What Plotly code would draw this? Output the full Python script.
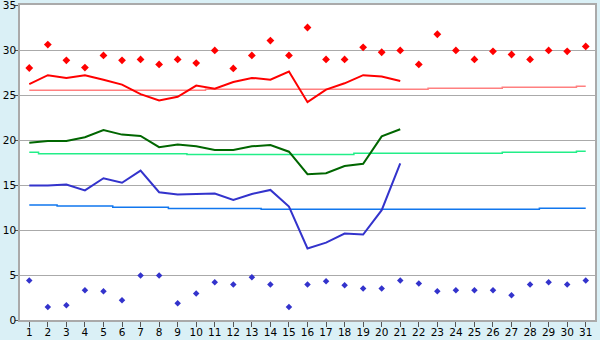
import plotly.graph_objects as go

days = list(range(1, 32))
max_points = [28.0, 30.6, 28.85, 28.05, 29.4, 28.85, 28.95, 28.4, 28.95, 28.55,
              29.95, 27.95, 29.4, 31.05, 29.4, 32.5, 28.95, 28.95, 30.3, 29.75,
              29.95, 28.4, 31.75, 29.95, 28.95, 29.85, 29.5, 28.95, 29.95, 29.85, 30.4]
min_points = [4.4, 1.45, 1.65, 3.3, 3.2, 2.2, 4.95, 4.95, 1.85, 2.95,
              4.2, 3.95, 4.75, 3.95, 1.45, 3.95, 4.3, 3.85, 3.5, 3.5,
              4.4, 4.05, 3.2, 3.3, 3.3, 3.3, 2.75, 3.95, 4.2, 3.95, 4.4]
line_days = list(range(1, 22))
max_line = [26.2, 27.2, 26.9, 27.2, 26.7, 26.15, 25.1, 24.4, 24.8, 26.05,
            25.7, 26.45, 26.9, 26.7, 27.6, 24.2, 25.6, 26.3, 27.2, 27.05, 26.55]
mean_line = [19.7, 19.9, 19.9, 20.3, 21.1, 20.6, 20.45, 19.2, 19.5, 19.3,
             18.9, 18.9, 19.3, 19.45, 18.7, 16.2, 16.3, 17.1, 17.35, 20.4, 21.2]
min_line = [14.95, 14.95, 15.05, 14.4, 15.75, 15.25, 16.6, 14.2, 13.95, 14.0,
            14.05, 13.35, 14.0, 14.45, 12.6, 7.95, 8.6, 9.6, 9.5, 12.2, 17.4]
normal_max = [25.52]*10 + [25.63]*12 + [25.74]*4 + [25.85]*4 + [25.96]
normal_mean = [18.63] + [18.48]*8 + [18.38]*9 + [18.52]*8 + [18.63]*4 + [18.74]
normal_min = [12.78]*2 + [12.67]*3 + [12.52]*3 + [12.4]*5 + [12.3]*15 + [12.41]*3

x_ticks = [str(d) for d in days]
y_ticks = [0, 5, 10, 15, 20, 25, 30, 35]

fig = go.Figure()
fig.add_trace(go.Scatter(x=days, y=normal_max, mode="lines", line=dict(color="#ff8080", width=1.5, shape="hvh")))
fig.add_trace(go.Scatter(x=days, y=normal_mean, mode="lines", line=dict(color="#22ee88", width=1.5, shape="hvh")))
fig.add_trace(go.Scatter(x=days, y=normal_min, mode="lines", line=dict(color="#1177ee", width=1.5, shape="hvh")))
fig.add_trace(go.Scatter(x=line_days, y=max_line, mode="lines", line=dict(color="#ff0000", width=2)))
fig.add_trace(go.Scatter(x=line_days, y=mean_line, mode="lines", line=dict(color="#006600", width=2)))
fig.add_trace(go.Scatter(x=line_days, y=min_line, mode="lines", line=dict(color="#3333cc", width=2)))
fig.add_trace(go.Scatter(x=days, y=max_points, mode="markers", marker=dict(symbol="diamond", size=6, color="#ff0000")))
fig.add_trace(go.Scatter(x=days, y=min_points, mode="markers", marker=dict(symbol="diamond", size=5, color="#3333cc")))

fig.update_layout(
    width=600, height=340,
    margin=dict(l=20, r=5, t=5, b=20, autoexpand=False),
    paper_bgcolor="#daf0f6", plot_bgcolor="#ffffff",
    showlegend=False,
    font=dict(family="DejaVu Sans", size=10.5, color="#000000"),
)
fig.update_xaxes(range=[0.5, 31.5], tickmode="array", tickvals=days, ticktext=x_ticks,
                 showgrid=False, zeroline=False, showline=True, mirror=True, automargin=False,
                 linecolor="#aaaaaa", linewidth=1.5, ticks="outside", ticklen=5,
                 tickcolor="#555555", ticklabelstandoff=-3, ticklabeloverflow="allow")
fig.update_yaxes(range=[0, 35], tickmode="array", tickvals=y_ticks, automargin=False,
                 showgrid=True, gridcolor="#aaaaaa", gridwidth=1, zeroline=False,
                 showline=True, mirror=True, linecolor="#aaaaaa", linewidth=1.5,
                 ticks="outside", ticklen=3, tickcolor="#555555", ticklabelstandoff=-3,
                 ticklabeloverflow="allow")
fig.write_html("out.html")
